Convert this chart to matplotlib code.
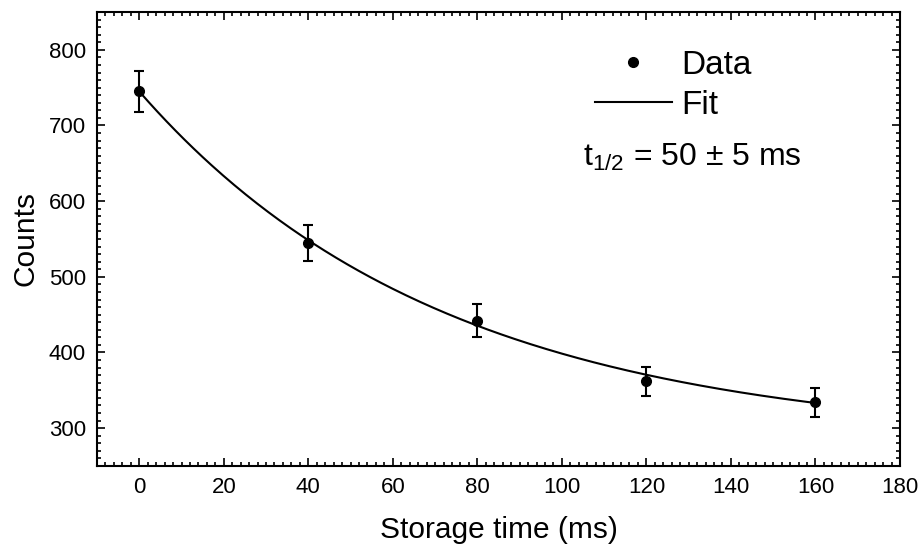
import numpy as np
import matplotlib
matplotlib.use("Agg")
import matplotlib.pyplot as plt
from matplotlib.lines import Line2D
from matplotlib.ticker import MultipleLocator

plt.rcParams['font.family'] = ['Liberation Sans', 'DejaVu Sans']
plt.rcParams['mathtext.fontset'] = 'custom'
plt.rcParams['mathtext.rm'] = 'Liberation Sans'
plt.rcParams['mathtext.it'] = 'Liberation Sans'

# data
time_ms = [0, 40, 80, 120, 160]
counts = [745, 545, 442, 362, 334]
count_err = [27, 24, 22, 19, 19]

# fit parameters: y = A * exp(-ln2 * t / t_half) + C
fit_A = 462
fit_C = 283
t_half = 50
t_half_err = 5

t_fit = np.linspace(0, 160, 300)
y_fit = fit_A * np.exp(-np.log(2) * t_fit / t_half) + fit_C

fig = plt.figure(figsize=(9.22, 5.45), dpi=100)
ax = fig.add_axes([0.1052, 0.145, 0.8709, 0.833])

ax.plot(t_fit, y_fit, color='black', lw=1.5)
ax.errorbar(time_ms, counts, yerr=count_err, fmt='o', color='black',
            markersize=7, elinewidth=1.5, capsize=3.5, capthick=1.5)

ax.set_xlim(-10, 180)
ax.set_ylim(250, 850)
ax.xaxis.set_major_locator(MultipleLocator(20))
ax.xaxis.set_minor_locator(MultipleLocator(2))
ax.yaxis.set_major_locator(MultipleLocator(100))
ax.yaxis.set_minor_locator(MultipleLocator(10))
ax.tick_params(which='both', direction='in', top=True, right=True, width=1.2)
ax.tick_params(which='major', length=6, labelsize=16, pad=8)
ax.tick_params(which='minor', length=3)
for s in ax.spines.values():
    s.set_linewidth(1.5)

ax.set_xlabel('Storage time (ms)', fontsize=21.5, labelpad=13)
ax.set_ylabel('Counts', fontsize=21.5, labelpad=7)

handles = [Line2D([], [], marker='o', ls='none', color='black', markersize=7),
           Line2D([], [], color='black', lw=1.5)]
ax.legend(handles, ['Data', 'Fit'], loc='upper left', bbox_to_anchor=(0.62, 0.917),
          frameon=False, fontsize=24, handlelength=2.3, handletextpad=0.3,
          labelspacing=0.28, borderpad=0, borderaxespad=0)

ax.text(0.605, 0.68, r'$\mathrm{t_{1/2}}$ = %d ± %d ms' % (t_half, t_half_err),
        transform=ax.transAxes, fontsize=23, va='center', ha='left')

fig.savefig('out.png', dpi=100)
